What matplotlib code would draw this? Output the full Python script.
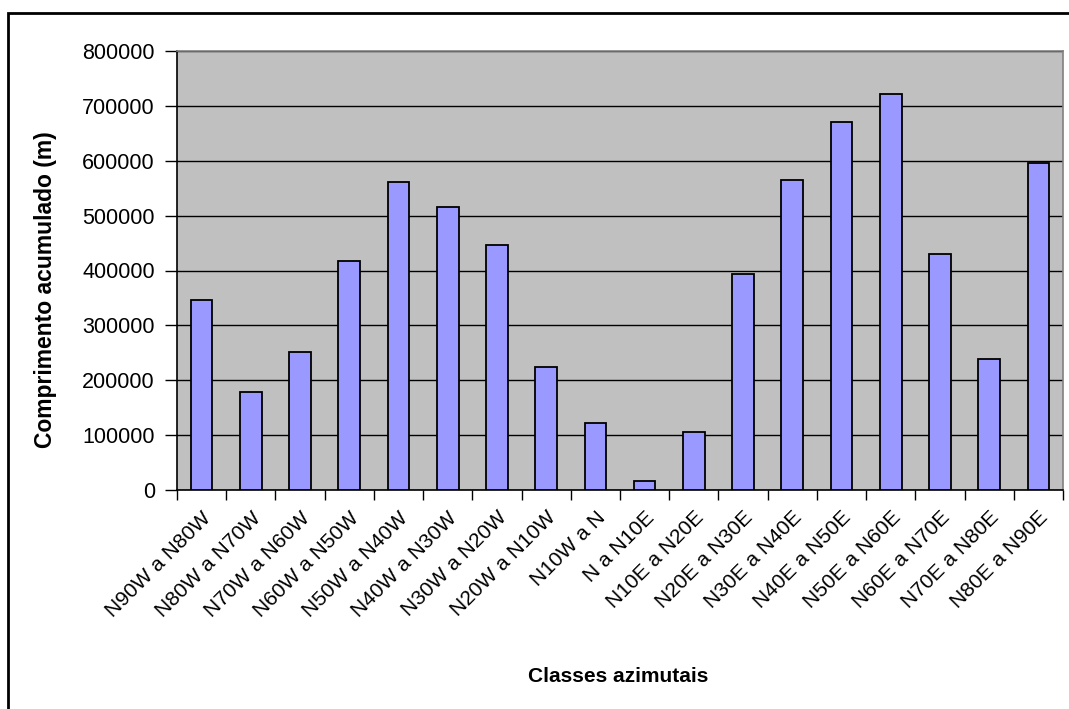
import matplotlib
matplotlib.use("Agg")
import matplotlib.pyplot as plt
from matplotlib.patches import Rectangle
import numpy as np

categories = ["N90W a N80W", "N80W a N70W", "N70W a N60W", "N60W a N50W",
              "N50W a N40W", "N40W a N30W", "N30W a N20W", "N20W a N10W",
              "N10W a N", "N a N10E", "N10E a N20E", "N20E a N30E",
              "N30E a N40E", "N40E a N50E", "N50E a N60E", "N60E a N70E",
              "N70E a N80E", "N80E a N90E"]
values = [347000, 179000, 251000, 417000, 562000, 516000, 446000, 225000,
          122000, 16000, 106000, 394000, 565000, 671000, 721000, 430000,
          238000, 595000]
yticks = [0, 100000, 200000, 300000, 400000, 500000, 600000, 700000, 800000]

plt.rcParams['font.family'] = ['Liberation Sans', 'DejaVu Sans']

W, H = 1069, 709
fig = plt.figure(figsize=(W / 100, H / 100), dpi=100)
fig.patch.set_facecolor('white')

# outer chart border
fig.patches.append(Rectangle((8 / W, -0.2), 1.2, 1 - 13 / H + 0.2,
                             transform=fig.transFigure, fill=False,
                             edgecolor='black', linewidth=2))

left, right, top, bottom = 177, 1063, 51, 490
ax = fig.add_axes([left / W, 1 - bottom / H, (right - left) / W, (bottom - top) / H])
ax.set_facecolor('#C0C0C0')

x = np.arange(len(categories))
ax.bar(x, values, width=0.44, color='#9999FF', edgecolor='black', linewidth=1.3, zorder=3)

ax.set_xlim(-0.5, len(categories) - 0.5)
ax.set_ylim(0, 800000)
ax.set_yticks(yticks)
ax.set_yticklabels([str(v) for v in yticks], fontsize=15.5)
ax.yaxis.grid(True, color='black', linewidth=1.0, zorder=1)
ax.set_axisbelow(True)

ax.set_xticks(x)
ax.set_xticklabels(categories, rotation=45, ha='right', rotation_mode='anchor', fontsize=15)
ax.tick_params(axis='x', which='major', length=0, pad=13)
ax.set_xticks(np.arange(-0.5, len(categories), 1.0), minor=True)
ax.tick_params(axis='x', which='minor', length=7, width=1, color='black', direction='out')
ax.tick_params(axis='y', length=9, width=1, color='black', direction='out', pad=7)

for s in ['top', 'right']:
    ax.spines[s].set_color('#808080')
    ax.spines[s].set_linewidth(1.2)
for s in ['left', 'bottom']:
    ax.spines[s].set_color('black')
    ax.spines[s].set_linewidth(1.2)

fig.text(618 / W, 1 - 676 / H, 'Classes azimutais', ha='center', va='center',
         fontsize=15, fontweight='bold')
fig.text(46 / W, 1 - 290 / H, 'Comprimento acumulado (m)', ha='center', va='center',
         rotation=90, fontsize=16.5, fontweight='bold')

fig.savefig('out.png', dpi=100, facecolor='white')
